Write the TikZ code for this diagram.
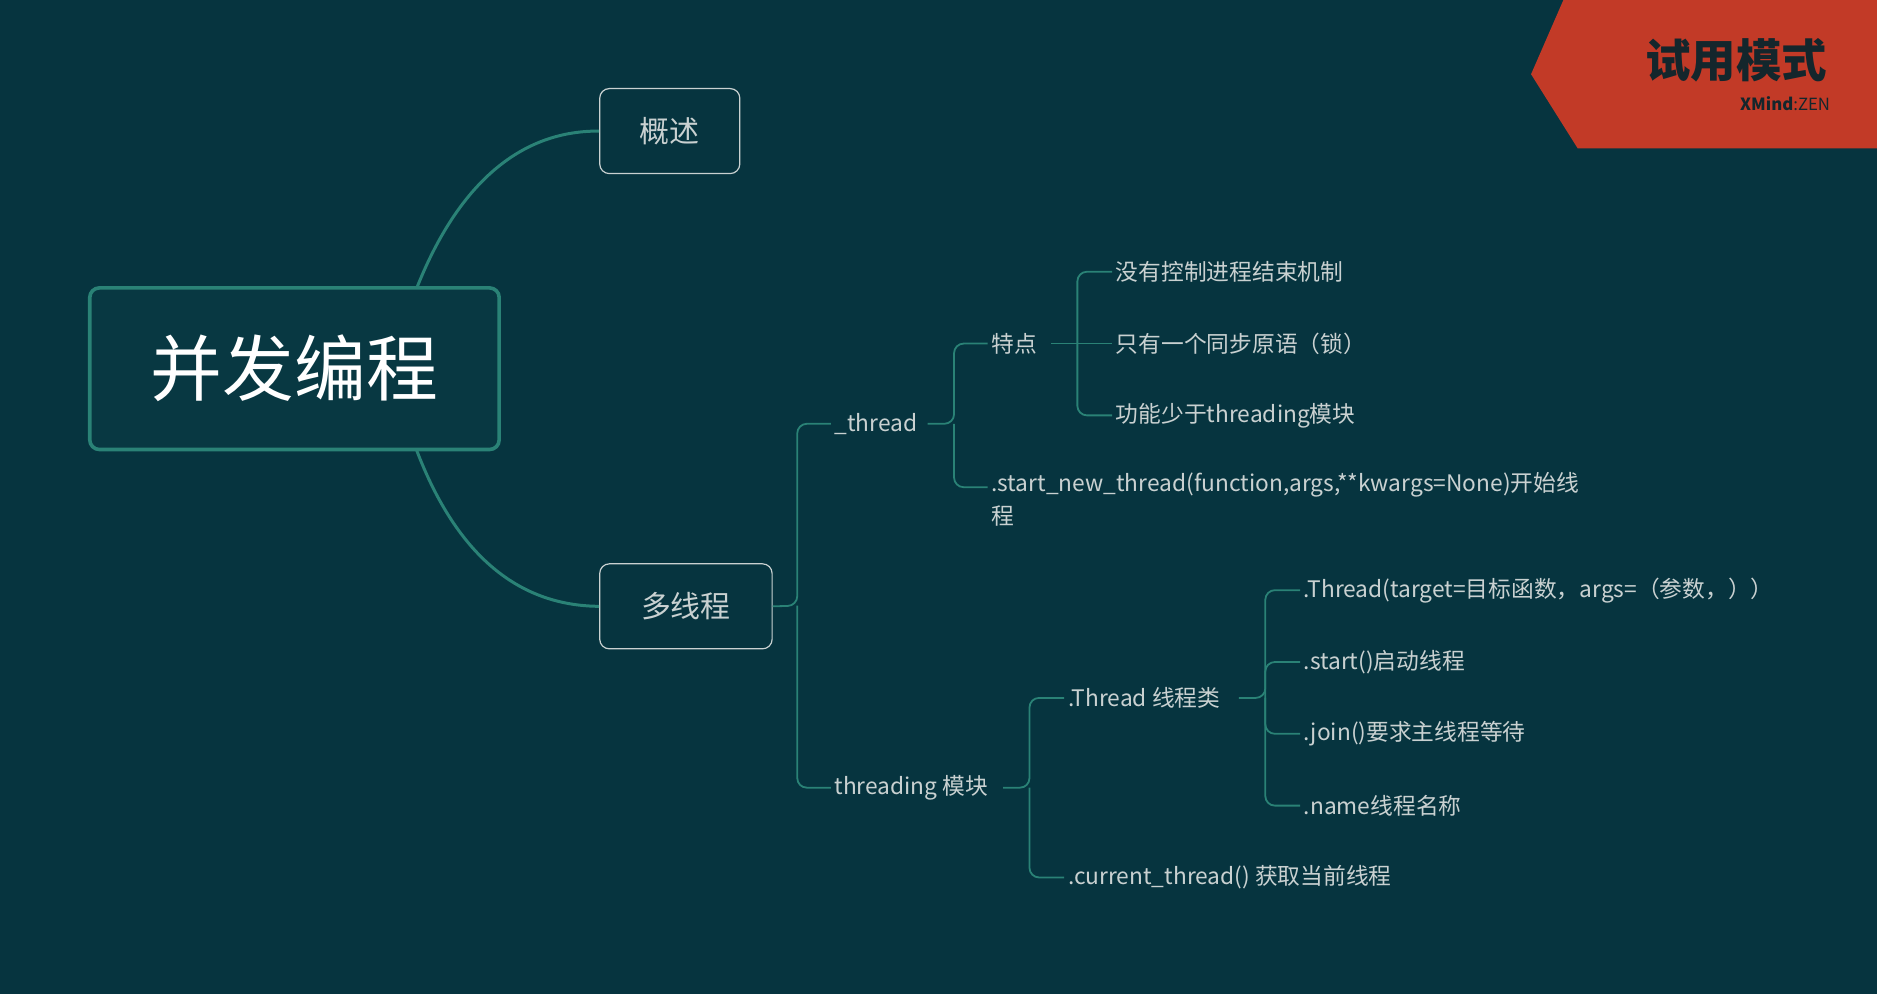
\documentclass[tikz,border=0pt]{standalone}
\usepackage{fontspec}
\setmainfont{Noto Sans CJK SC}
\usetikzlibrary{positioning,calc}
\definecolor{bgc}{HTML}{06343F}
\definecolor{teal}{HTML}{2A8276}
\definecolor{txt}{HTML}{C9D1D1}
\definecolor{badge}{HTML}{C23A27}
\definecolor{dark}{HTML}{14262C}
\tikzstyle{root} = [rectangle, draw=teal, line width=3pt, rounded corners=8pt, fill=bgc!95!teal,
    minimum width=342pt, minimum height=135pt, text=white, font=\fontsize{60}{66}\selectfont]
\tikzstyle{main} = [rectangle, draw=txt, line width=1pt, rounded corners=8pt, minimum height=71pt,
    text=txt, font=\fontsize{25}{30}\selectfont]
\tikzstyle{leaf} = [anchor=west, inner sep=3pt, text=txt, font=\fontsize{19}{28}\selectfont]
\tikzstyle{curve} = [draw=teal, line width=2.5pt]
\tikzstyle{branch} = [draw=teal, line width=1.5pt, rounded corners=8pt]
\begin{document}
\begin{tikzpicture}[x=1pt, y=-1pt]
\fill[bgc] (0,0) rectangle (1568,830);
\useasboundingbox (0,0) rectangle (1568,830);
% badge
\fill[badge] (1306,0) -- (1568,0) -- (1568,124) -- (1318,124) -- (1279,62) -- cycle;
\node[anchor=east, text=dark, font=\fontsize{38}{40}\selectfont\bfseries] (trial) at (1530,50) {试用模式};
\node[anchor=east, text=dark, font=\fontsize{14}{16}\selectfont, inner sep=0pt] (zen) at (1529,87) {\textbf{XMind}:ZEN};

% Place nodes
\node [root] (conc) at (246,308) {并发编程};
\node [main, minimum width=117pt] (intro) at (559.5,109.5) {概述};
\node [main, minimum width=144pt] (multi) at (573,506.5) {多线程};

\node [leaf] (thread) at (694,354) {\_thread};
\node [leaf] (threading) at (694,658) {threading 模块};

\node [leaf] (feat) at (825,287) {特点};
\node [leaf, align=left, anchor=north west] (start) at (825,391) {.start\_new\_thread(function,args,**kwargs=None)开始线\\程};

\node [leaf] (noctl) at (929,227) {没有控制进程结束机制};
\node [leaf] (onelock) at (929,287) {只有一个同步原语（锁）};
\node [leaf] (fewer) at (929,347) {功能少于threading模块};

\node [leaf] (thcls) at (889,583) {.Thread 线程类};
\node [leaf] (curth) at (889,733) {.current\_thread() 获取当前线程};

\node [leaf] (target) at (1086,493) {.Thread(target=目标函数，args=（参数，））};
\node [leaf] (startm) at (1086,553) {.start()启动线程};
\node [leaf] (joinm) at (1086,613) {.join()要求主线程等待};
\node [leaf] (namem) at (1086,673) {.name线程名称};

% Draw edges
\path [curve] (348,241) .. controls (380,160) and (430,109) .. (intro.west);
\path [curve] (348,376) .. controls (380,460) and (430,506) .. (multi.west);

\coordinate (j1) at (666,506);
\path [branch] (multi.east) -- (j1) |- (thread.west);
\path [branch] (j1) |- (threading.west);

\coordinate (j2) at (797,354);
\path [branch] (775,354) -- (j2) |- (feat.west);
\path [branch] (j2) |- ($(start.north west)+(0,16)$);

\coordinate (j3) at (900,287);
\path [branch] (878,287) -- (onelock.west);
\path [branch] (j3) |- (noctl.west);
\path [branch] (j3) |- (fewer.west);

\coordinate (j4) at (860,658);
\path [branch] (838,658) -- (j4) |- (thcls.west);
\path [branch] (j4) |- (curth.west);

\coordinate (j5) at (1057,583);
\path [branch] (1035,583) -- (j5) |- (target.west);
\path [branch] (j5) |- (startm.west);
\path [branch] (j5) |- (joinm.west);
\path [branch] (j5) |- (namem.west);
\end{tikzpicture}
\end{document}
